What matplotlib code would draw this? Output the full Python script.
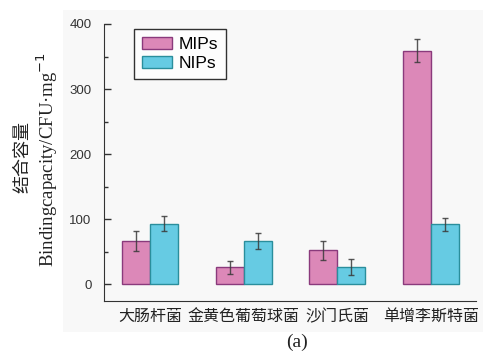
import numpy as np
import matplotlib
matplotlib.use("Agg")
import matplotlib.pyplot as plt
from matplotlib.patches import Rectangle
from matplotlib.ticker import MultipleLocator

plt.rcParams['font.family'] = ['Liberation Sans', 'Noto Sans CJK SC', 'DejaVu Sans']

# data
bacteria = ["大肠杆菌", "金黄色葡萄球菌", "沙门氏菌", "单增李斯特菌"]
mips = [66, 26, 52, 359]
mips_err = [15, 10, 15, 18]
nips = [93, 66, 26, 92]
nips_err = [12, 12, 12, 10]

fig = plt.figure(figsize=(4.83, 3.52), dpi=100)
fig.patch.set_facecolor("white")
# faint grey panel behind the plot
fig.patches.append(Rectangle((63 / 483, 1 - 332 / 352), 420 / 483, 322 / 352,
                             transform=fig.transFigure, facecolor="#f8f8f8",
                             edgecolor="none", zorder=-10))

ax = fig.add_axes([104 / 483, 1 - 301 / 352, 372 / 483, 277 / 352])
ax.set_facecolor("none")

x = np.arange(len(bacteria))
w = 0.30
ax.bar(x - w / 2, mips, w, color="#dc88b8", edgecolor="#8a3a7c", linewidth=1.0,
       label="MIPs", zorder=2)
ax.bar(x + w / 2, nips, w, color="#66cbe3", edgecolor="#2a8e9c", linewidth=1.0,
       label="NIPs", zorder=2)
ax.errorbar(x - w / 2, mips, yerr=mips_err, fmt="none", ecolor="#3a3a3a",
            elinewidth=1.0, capsize=2.5, capthick=1.0, alpha=0.85, zorder=3)
ax.errorbar(x + w / 2, nips, yerr=nips_err, fmt="none", ecolor="#3a3a3a",
            elinewidth=1.0, capsize=2.5, capthick=1.0, alpha=0.85, zorder=3)

ax.set_xlim(-0.49, 3.48)
ax.set_ylim(-26, 400)
ax.yaxis.set_major_locator(MultipleLocator(100))
ax.yaxis.set_minor_locator(MultipleLocator(50))
ax.set_xticks(x)
ax.set_xticklabels(bacteria, family=['Noto Sans CJK SC'], fontsize=11.5,
                   color="#222222")
ax.tick_params(axis='x', length=0, pad=5)
ax.tick_params(axis='y', which='major', direction='in', length=5, width=1,
               labelsize=9.5, pad=9, color="#333333", labelcolor="#333333")
ax.tick_params(axis='y', which='minor', direction='in', length=3, width=1,
               color="#333333")
ax.spines['top'].set_visible(False)
ax.spines['right'].set_visible(False)
ax.spines['left'].set_color("#333333")
ax.spines['bottom'].set_color("#333333")

leg = ax.legend(loc="upper left", bbox_to_anchor=(0.081, 0.982), fontsize=12.5,
                frameon=True, fancybox=False, edgecolor="black",
                handlelength=1.75, handleheight=0.7, handletextpad=0.35,
                borderpad=0.45, labelspacing=0.25, borderaxespad=0)
leg.get_frame().set_linewidth(1.0)
leg.get_frame().set_facecolor("white")

fig.text(22 / 483, 1 - 157 / 352, "结合容量", rotation=90, ha="center",
         va="center", fontsize=13, family=['Noto Sans CJK SC'], color="#222222")
fig.text(47 / 483, 1 - 159 / 352, "Bindingcapacity/CFU·mg$^{-1}$", rotation=90,
         ha="center", va="center", fontsize=13.5, family=['Liberation Serif'],
         color="#222222")
fig.text(297 / 483, 1 - 342 / 352, "(a)", ha="center", va="center",
         fontsize=14, family=['Liberation Serif'], color="#222222")

fig.savefig("out.png", dpi=100)
